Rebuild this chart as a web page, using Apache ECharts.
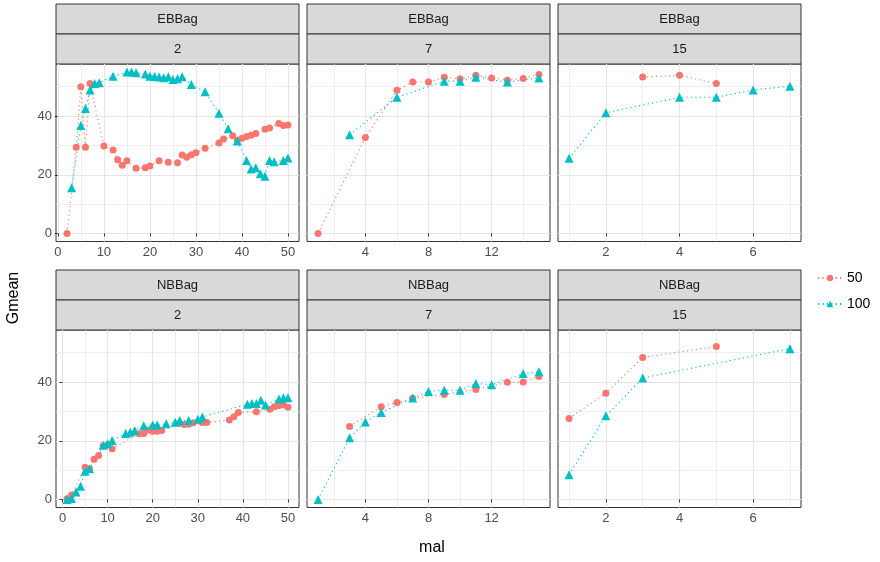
<!DOCTYPE html>
<html>
<head>
<meta charset="utf-8">
<script src="https://cdn.jsdelivr.net/npm/echarts@6/dist/echarts.min.js"></script>
<style>
html, body { margin: 0; padding: 0; background: #fff; }
#chart { width: 880px; height: 562px; }
</style>
</head>
<body>
<div id="chart"></div>
<script>
// facets and groups
const learners = ['EBBag', 'NBBag'];
const bagSizes = ['2', '7', '15'];
const groups = ['50', '100'];

// tick labels
const yTicks = [0, 20, 40];
const yMinor = [10, 30, 50];
const xTicks = [[0, 10, 20, 30, 40, 50], [4, 8, 12], [2, 4, 6]];
const xMinor = [[5, 15, 25, 35, 45], [2, 6, 10, 14], [1, 3, 5, 7]];

// EBBag, bag size 2  -> [mal, Gmean]
const eb2_50 = [[2, 0], [4, 29.4], [5, 50], [6, 29.4], [7, 51.1], [10, 29.8], [12, 28.4], [13, 25.1], [14, 23.2],
  [15, 24.8], [17, 22.2], [19, 22.4], [20, 23], [22, 24.8], [24, 24.3], [26, 24.1], [27, 26.7], [28, 26],
  [29, 26.8], [30, 27.5], [32, 29], [35, 30.8], [36, 32.2], [38, 33.3], [39, 31.8], [40, 32.4], [41, 33],
  [42, 33.5], [43, 34.1], [45, 35.5], [46, 35.9], [48, 37.5], [49, 36.8], [50, 37]];
const eb2_100 = [[3, 15.6], [5, 36.8], [6, 42.6], [7, 48.9], [8, 51.1], [9, 51.4], [12, 53.6], [15, 55], [16, 55],
  [17, 54.8], [19, 54.3], [20, 53.6], [21, 53.5], [22, 53.3], [23, 53.1], [24, 53.4], [25, 52.5], [26, 52.7],
  [27, 53.4], [29, 50.8], [32, 48.3], [35, 41], [37, 35.7], [39, 31.5], [41, 24.9], [42, 22], [43, 22.4],
  [44, 20.3], [45, 19.5], [46, 24.9], [47, 24.4], [49, 24.9], [50, 25.7]];
// EBBag, bag size 7
const eb7_50 = [[1, 0], [4, 32.7], [6, 48.8], [7, 51.6], [8, 51.6], [9, 53.2], [10, 52.7], [11, 53.9], [12, 53],
  [13, 52.2], [14, 52.8], [15, 54.2]];
const eb7_100 = [[3, 33.6], [6, 46.4], [9, 51.9], [10, 51.9], [11, 53.2], [13, 51.6], [15, 53]];
// EBBag, bag size 15
const eb15_50 = [[3, 53.3], [4, 53.9], [5, 51.1]];
const eb15_100 = [[1, 25.6], [2, 41.1], [4, 46.4], [5, 46.4], [6, 48.9], [7, 50.2]];
// NBBag, bag size 2
const nb2_50 = [[1, 0.2], [2, 1.5], [5, 11], [6, 10.4], [7, 13.7], [8, 15], [9, 18.3], [10, 18.6], [11, 17.3],
  [17, 22.4], [18, 22.5], [19, 23.7], [20, 23.2], [21, 23.2], [22, 23.5], [26, 25.9], [27, 25.5], [28, 25.6],
  [29, 26.1], [31, 26.2], [32, 26.2], [37, 27.1], [38, 28.2], [39, 29.6], [43, 29.9], [46, 30.7], [47, 31.6],
  [48, 32], [49, 32.2], [50, 31.4]];
const nb2_100 = [[1, 0], [2, 0.3], [3, 2.5], [4, 4.5], [5, 9.6], [6, 10.5], [9, 18.5], [10, 19], [11, 20.1],
  [14, 22.5], [15, 22.9], [16, 23.5], [18, 25.1], [20, 25.4], [21, 25.4], [23, 25.8], [25, 26.3], [26, 26.9],
  [28, 26.9], [30, 27.3], [31, 28.1], [41, 32.4], [42, 32.7], [43, 32.7], [44, 33.8], [45, 32.2], [48, 34.2],
  [49, 34.7], [50, 34.7]];
// NBBag, bag size 7
const nb7_50 = [[3, 24.9], [5, 31.6], [6, 33], [7, 34.5], [9, 35.8], [11, 37.5], [13, 39.9], [14, 40], [15, 41.9]];
const nb7_100 = [[1, 0], [3, 21], [4, 26.4], [5, 29.6], [7, 34.6], [8, 36.8], [9, 37.2], [10, 37.2], [11, 39.5],
  [12, 39.1], [14, 42.9], [15, 43.5]];
// NBBag, bag size 15
const nb15_50 = [[1, 27.6], [2, 36.2], [3, 48.4], [5, 52.1]];
const nb15_100 = [[1, 8.4], [2, 28.5], [3, 41.4], [7, 51.4]];

const panels = [
  [eb2_50, eb2_100], [eb7_50, eb7_100], [eb15_50, eb15_100],
  [nb2_50, nb2_100], [nb7_50, nb7_100], [nb15_50, nb15_100]
];

const colors = ['#F8766D', '#00BFC4'];
const symbols = ['circle', 'triangle'];
const symbolSizes = [7, 9];

// layout (pixels)
const colLeft = [56, 307, 558];
const panelW = 243;
const plotTop = [64, 330];
const plotH = 177.5;
const stripH = 30;
const font = 'Liberation Sans, Arial, sans-serif';

function expand(lo, hi) {
  const d = (hi - lo) * 0.05;
  return [lo - d, hi + d];
}

let allY = [];
panels.forEach(p => p.forEach(s => s.forEach(pt => allY.push(pt[1]))));
const yRange = expand(Math.min(...allY), Math.max(...allY));

const grids = [], xAxes = [], yAxes = [], series = [], graphics = [];
const gridLine = '#E6E6E6';

panels.forEach((pair, i) => {
  const row = Math.floor(i / 3), col = i % 3;
  grids.push({
    left: colLeft[col], top: plotTop[row], width: panelW, height: plotH,
    show: true, borderColor: '#333333', borderWidth: 1, backgroundColor: 'transparent'
  });
  const xs = [];
  pair.forEach(s => s.forEach(pt => xs.push(pt[0])));
  const xr = expand(Math.min(...xs), Math.max(...xs));

  // major axis (ticks, labels, major grid)
  xAxes.push({
    gridIndex: i, type: 'value', min: xr[0], max: xr[1],
    axisLine: { show: false },
    axisTick: { show: true, length: 3, customValues: xTicks[col], lineStyle: { color: '#333333', width: 1 } },
    axisLabel: { customValues: xTicks[col], color: '#4D4D4D', fontSize: 13, fontFamily: font, margin: 4 },
    splitLine: { show: true, lineStyle: { color: gridLine, width: 1.2 } }
  });
  // minor grid
  xAxes.push({
    gridIndex: i, type: 'value', min: xr[0], max: xr[1],
    axisLine: { show: false },
    axisTick: { show: false, customValues: xMinor[col] },
    axisLabel: { show: false, customValues: xMinor[col] },
    splitLine: { show: true, lineStyle: { color: gridLine, width: 0.7 } }
  });
  yAxes.push({
    gridIndex: i, type: 'value', min: yRange[0], max: yRange[1],
    axisLine: { show: false },
    axisTick: { show: col === 0, length: 3, customValues: yTicks, lineStyle: { color: '#333333', width: 1 } },
    axisLabel: { show: col === 0, customValues: yTicks, color: '#4D4D4D', fontSize: 13, fontFamily: font, margin: 4 },
    splitLine: { show: true, lineStyle: { color: gridLine, width: 1.2 } }
  });
  yAxes.push({
    gridIndex: i, type: 'value', min: yRange[0], max: yRange[1],
    axisLine: { show: false },
    axisTick: { show: false, customValues: yMinor },
    axisLabel: { show: false, customValues: yMinor },
    splitLine: { show: true, lineStyle: { color: gridLine, width: 0.7 } }
  });

  pair.forEach((s, g) => {
    series.push({
      name: groups[g], type: 'line', xAxisIndex: 2 * i, yAxisIndex: 2 * i,
      data: s, symbol: symbols[g], symbolSize: symbolSizes[g], showSymbol: true,
      itemStyle: { color: colors[g] },
      lineStyle: { color: colors[g], width: 1.1, type: [1.2, 3.2] },
      emphasis: { disabled: true }, animation: false, z: 3
    });
  });

  // strips
  const labels = [learners[row], bagSizes[col]];
  labels.forEach((t, k) => {
    const y0 = plotTop[row] - stripH * (2 - k);
    graphics.push({
      type: 'rect', shape: { x: colLeft[col], y: y0, width: panelW, height: stripH },
      style: { fill: '#D9D9D9', stroke: '#333333', lineWidth: 1 }
    });
    graphics.push({
      type: 'text', x: colLeft[col] + panelW / 2, y: y0 + stripH / 2,
      style: { text: t, fill: '#1A1A1A', font: '13px ' + font, align: 'center', verticalAlign: 'middle' }
    });
  });
});

// axis titles
graphics.push({
  type: 'text', x: 432, y: 548, style: { text: 'mal', fill: '#000', font: '16px ' + font, align: 'center', verticalAlign: 'middle' }
});
graphics.push({
  type: 'text', x: 14, y: 298, rotation: Math.PI / 2,
  style: { text: 'Gmean', fill: '#000', font: '16px ' + font, align: 'center', verticalAlign: 'middle' }
});

const chart = echarts.init(document.getElementById('chart'));
chart.setOption({
  animation: false,
  grid: grids,
  xAxis: xAxes,
  yAxis: yAxes,
  series: series,
  legend: {
    data: groups, orient: 'vertical', left: 812, top: 266, itemWidth: 24, itemHeight: 8, itemGap: 12,
    textStyle: { color: '#000', fontSize: 14, fontFamily: font }
  },
  graphic: graphics
});
window.addEventListener('resize', function () { chart.resize(); });
</script>
</body>
</html>
